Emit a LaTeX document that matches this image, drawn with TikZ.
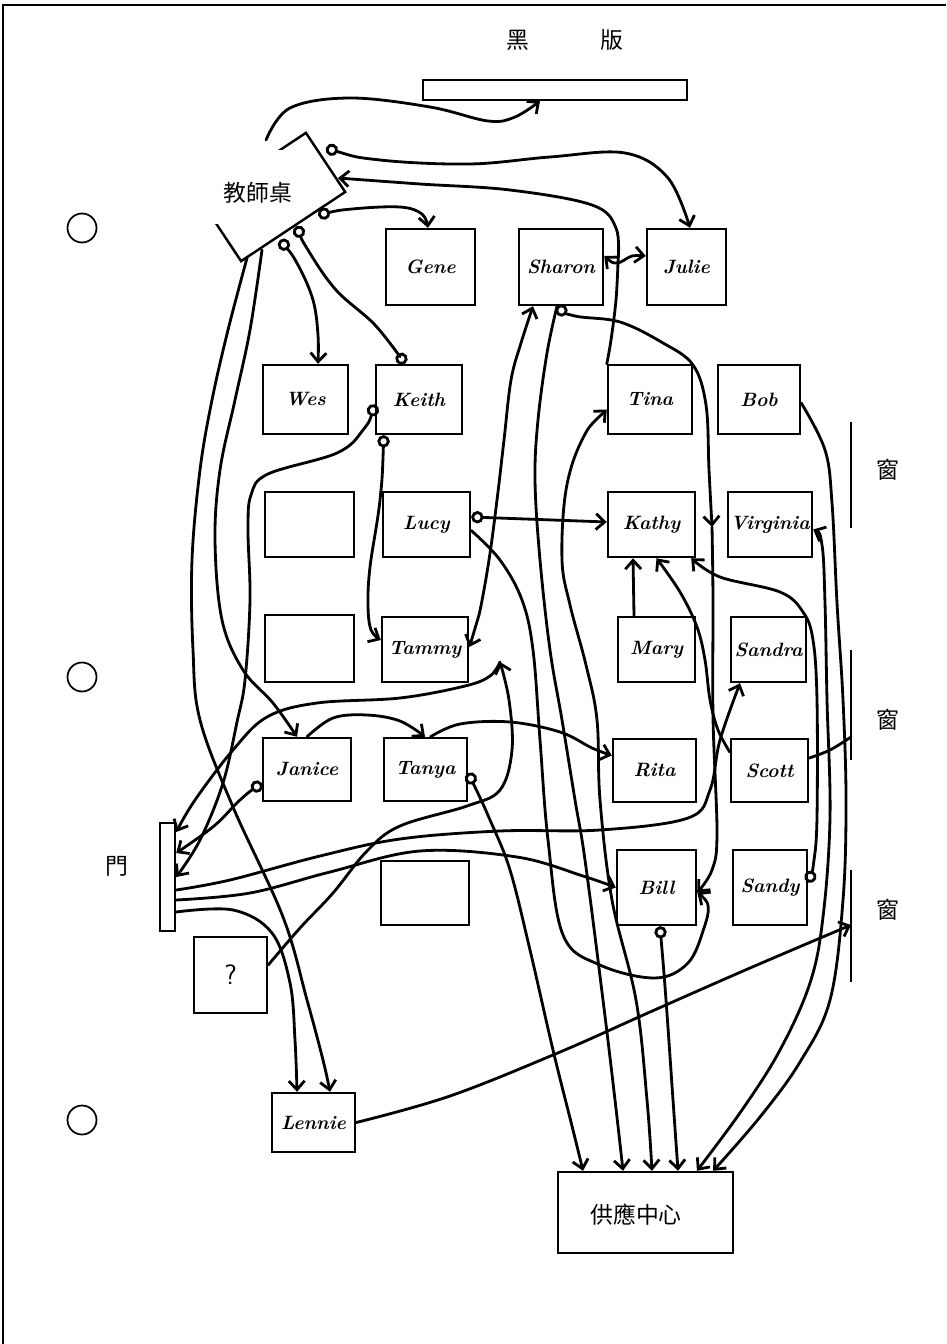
\documentclass[tikz,border=0pt]{standalone}
\usepackage{fontspec}
\newfontfamily\cjk{Noto Sans CJK TC}
\usetikzlibrary{arrows.meta}
\newcommand\namefont{\fontsize{11}{13}\selectfont\bfseries\itshape}
\newcommand\hanfont{\cjk\fontsize{13}{15}\selectfont}
\tikzset{
  >={Straight Barb[length=5pt,width=9pt]},
  seat/.style={draw,line width=1.4pt,inner sep=0pt,font=\namefont},
  sign/.style={font=\hanfont,inner sep=1pt},
  hole/.style={draw,circle,line width=1pt,minimum size=.58cm,inner sep=0pt},
  wall/.style={line width=1.4pt},
  walk/.style={line width=1.6pt,line cap=round,line join=round},
  go/.style={walk,->},
  both/.style={walk,<->},
  ringgo/.style={walk,{Circle[open,length=7pt,width=7pt]}->},
  ringring/.style={walk,{Circle[open,length=7pt,width=7pt]}-{Circle[open,length=7pt,width=7pt]}},
  curvy/.style={smooth,tension=.6}
}

\begin{document}
\begin{tikzpicture}[x=0.02cm,y=-0.02cm]
\useasboundingbox (0,0) rectangle (946,1344);
% sheet edge and binder holes
\draw[line width=1pt] (3,1344) -- (3,5) -- (946,5);
\foreach \i/\y in {1/228,2/677,3/1120}
  \node[hole] (hole\i) at (82,\y) {};

% blackboard
\node[draw,line width=1.2pt,minimum width=5.28cm,minimum height=.4cm,inner sep=0pt] (board) at (555,90) {};
\node[sign] (boardA) at (518,40) {黑};
\node[sign] (boardB) at (612,40) {版};

% windows
\draw[wall] (851,422) -- (851,528);
\draw[wall] (851,650) -- (851,760);
\draw[wall] (851,870) -- (851,982);
\coordinate (winB) at (851,737);
\coordinate (winC) at (851,925);
\foreach \i/\y in {1/470,2/720,3/910}
  \node[sign] (win\i) at (888,\y) {窗};

% door
\node[draw,line width=1.4pt,minimum width=.3cm,minimum height=2.16cm,inner sep=0pt] (door) at (167.5,877) {};
\node[sign] (doorname) at (117,866) {門};

% teacher's desk
\node[draw,line width=1.4pt,rotate=33.6,minimum width=2.5cm,minimum height=1.42cm,inner sep=0pt] (desk) at (273.5,197) {};
\fill[white] (200,150) rectangle (293,224);
\node[sign] (deskname) at (258,193) {教師桌};
\coordinate (deskTop) at (266,140);
\coordinate (deskSide) at (338,178);
\coordinate (deskRing1) at (326,148);
\coordinate (deskRing2) at (318,215);
\coordinate (deskRing3) at (297,226);
\coordinate (deskRing4) at (280,240);
\coordinate (deskFootA) at (247,258);
\coordinate (deskFootB) at (262,250);

% seats
\foreach \n/\x/\y/\w/\h/\t in {
  gene/430.5/267/1.78/1.52/Gene, sharon/561/267/1.68/1.52/Sharon, julie/686.5/267/1.58/1.52/Julie,
  wes/305.5/399.5/1.70/1.38/Wes, keith/419/399.5/1.72/1.38/Keith, tina/650/399.5/1.68/1.38/Tina, bob/759/399.5/1.64/1.38/Bob,
  emptyA/309.5/524.5/1.78/1.30/{}, lucy/426.5/524.5/1.74/1.30/Lucy, kathy/651.5/524.5/1.74/1.30/Kathy, virginia/770/524.5/1.68/1.30/Virginia,
  emptyB/309.5/648.5/1.78/1.34/{}, tammy/425/649.5/1.72/1.30/Tammy, mary/656.5/649.5/1.54/1.30/Mary, sandra/768.5/649.5/1.50/1.30/Sandra,
  janice/307/769.5/1.76/1.26/Janice, tanya/425.5/769.5/1.66/1.26/Tanya, rita/654.5/770.5/1.66/1.26/Rita, scott/769.5/770.5/1.54/1.26/Scott,
  emptyC/425/893/1.76/1.28/{}, bill/656.5/887.5/1.58/1.50/Bill, sandy/770/887.5/1.48/1.50/Sandy,
  lennie/313.5/1122.5/1.66/1.18/Lennie}
  \node[seat,minimum width=\w cm,minimum height=\h cm] (\n) at (\x,\y) {\t};
\node[seat,minimum width=1.46cm,minimum height=1.52cm,font=\fontsize{16}{18}\selectfont\sffamily] (quest) at (230.5,975) {?};
\node[seat,minimum width=3.5cm,minimum height=1.62cm] (supply) at (645.5,1212.5) {};
\node[sign] (supplyname) at (636,1215) {供應中心};

% from the desk
\draw[go] plot[curvy] coordinates {(deskTop) (290,108) (350,98) (430,107) (488,121) (515,117) ([xshift=-.3cm]board.south)};
\draw[ringgo] plot[curvy] coordinates {(deskRing1) (380,160) (470,164) (550,157) (625,153) (668,178) ([xshift=.07cm]julie.north)};
\draw[ringgo] plot[curvy] coordinates {(deskRing2) (352,209) (400,207) (422,214) ([xshift=-.05cm]gene.north)};
\draw[ringgo] plot[curvy] coordinates {(deskRing4) (298,265) (313,300) (318,335) ([xshift=.25cm]wes.north)};
\draw[ringring] plot[curvy] coordinates {(deskRing3) (308,250) (336,290) (375,325) ([xshift=-.28cm]keith.north)};
\draw[go] plot[curvy] coordinates {(deskFootA) (228,330) (212,400) (200,470) (192,560) (193,650) (200,720) (233,807) (283,917) (307,1000) (323,1060) ([xshift=.33cm]lennie.north)};
\draw[go] plot[curvy] coordinates {(deskFootB) (250,330) (235,400) (220,470) (215,540) (222,620) (243,670) (273,703) ([xshift=-.2cm]janice.north)};

% front row
\coordinate (jn) at (618,262);
\draw[go] plot[curvy] coordinates {(jn) (616,228) (592,205) (510,190) (420,184) (deskSide)};
\draw[walk] plot[curvy] coordinates {(jn) (616,300) (611,340) (tina.north west)};
\draw[both] plot[curvy] coordinates {([yshift=.22cm]sharon.east) (617,263) (632,256) ([yshift=.22cm]julie.west)};
\coordinate (vmid) at (712,527);
\draw[ringgo] plot[curvy] coordinates {([xshift=-.08cm]sharon.south) (575,316) (620,322) (663,343) (693,365) (706,405) (709,470) (vmid)};
\draw[go] plot[curvy] coordinates {(vmid) (713,600) (713,717) (717,833) (712,870) ([yshift=-.1cm]bill.east)};
\draw[go] plot[curvy] coordinates {([xshift=-.08cm]sharon.south) (547,353) (538,420) (535,480) (540,560) (550,650) (562,720) (575,800) (585,860) (603,1000) (615,1100) ([xshift=-.45cm]supply.north)};
\draw[both] plot[curvy] coordinates {([yshift=.05cm]tammy.east) (479,615) (489,560) (497,500) (504,440) (511,380) (521,343) ([xshift=-.56cm]sharon.south)};
\draw[both] plot[curvy] coordinates {([yshift=-.2cm]tina.west) (582,440) (566,490) (562,560) (570,605) (586,665) (597,720) (600,800) (612,900) (636,1000) (647,1100) ([xshift=.13cm]supply.north)};

% Keith and Lucy
\draw[ringgo] plot[curvy] coordinates {([yshift=-.1cm]keith.west) (363,430) (337,453) (268,474) (251,495) (248,530) (250,600) (245,680) (237,722) (223,783) (200,840) (door.east)};
\draw[ringgo] plot[curvy] coordinates {([xshift=.18cm]keith.south west) (380,500) (370,567) (368,605) (371,630) ([yshift=.19cm]tammy.west)};
\draw[ringgo] ([yshift=.15cm]lucy.east) -- ([yshift=.05cm]kathy.west);
\draw[go] plot[curvy] coordinates {([yshift=-.12cm]lucy.east) (500,560) (522,600) (533,650) (540,740) (548,840) (563,935) (600,965) (655,978) (688,963) (704,928) (708,905) ([yshift=-.1cm]bill.east)};

% middle and right
\draw[go] ([xshift=-.45cm]mary.north) -- ([xshift=-.37cm]kathy.south);
\draw[go] plot[curvy] coordinates {([yshift=.37cm]scott.west) (718,730) (710,700) (705,660) (697,627) (680,592) ([xshift=.1cm]kathy.south)};
\draw[walk] plot[curvy] coordinates {([yshift=.25cm]scott.east) (830,750) (winB)};
\draw[ringgo] plot[curvy] coordinates {([yshift=.1cm]sandy.east) (814,860) (817,817) (817,700) (813,640) (803,612) (780,592) (720,577) ([xshift=-.1cm]kathy.south east)};
\draw[both] plot[curvy] coordinates {([yshift=-.1cm]virginia.east) (822,545) (825,603) (827,700) (830,817) (823,917) (810,983) (780,1050) (742,1110) ([xshift=1.03cm]supply.north)};
\draw[go] plot[curvy] coordinates {([yshift=-.07cm]bob.east) (825,450) (832,503) (837,603) (843,700) (846,800) (843,900) (830,1000) (800,1062) (760,1117) ([xshift=-.42cm]supply.north east)};
\draw[ringgo] plot[curvy] coordinates {([xshift=.07cm]bill.south) (666,1000) (673,1100) ([xshift=.65cm]supply.north)};

% Janice and Tanya
\draw[ringgo] plot[curvy] coordinates {([yshift=-.27cm]janice.west) (240,800) (214,826) ([yshift=.48cm]door.east)};
\draw[go] plot[curvy] coordinates {(janice.north) (333,718) (367,715) (400,721) ([xshift=-.01cm]tanya.north)};
\draw[go] plot[curvy] coordinates {([xshift=.1cm]tanya.north) (460,724) (510,722) (560,732) (592,748) ([yshift=.3cm]rita.west)};
\draw[ringgo] plot[curvy] coordinates {([yshift=-.07cm]tanya.east) (490,820) (510,870) (530,950) (553,1050) (573,1130) ([xshift=-1.25cm]supply.north)};

% door side
\coordinate (pq) at (500,662);
\draw[go] plot[curvy] coordinates {([yshift=.2cm]quest.east) (300,928) (333,893) (367,851) (400,826) (467,806) (500,790) (512,750) (509,700) (pq)};
\draw[go] plot[curvy] coordinates {(pq) (490,676) (465,686) (400,698) (317,703) (267,717) (233,750) (195,800) ([yshift=.9cm]door.east)};
\draw[go] plot[curvy] coordinates {([yshift=-.26cm]door.east) (230,880) (320,856) (400,839) (500,831) (600,830) (688,818) (710,790) (720,740) ([xshift=-.57cm]sandra.south)};
\draw[go] plot[curvy] coordinates {([yshift=-.46cm]door.east) (250,893) (330,872) (420,851) (517,857) (583,876) (bill.west)};
\draw[go] plot[curvy] coordinates {([yshift=-.7cm]door.east) (233,910) (272,933) (290,983) (295,1040) ([xshift=-.33cm]lennie.north)};
\draw[go] plot[curvy] coordinates {(lennie.east) (450,1096) (560,1052) (650,1012) (750,968) (winC)};
\end{tikzpicture}
\end{document}
